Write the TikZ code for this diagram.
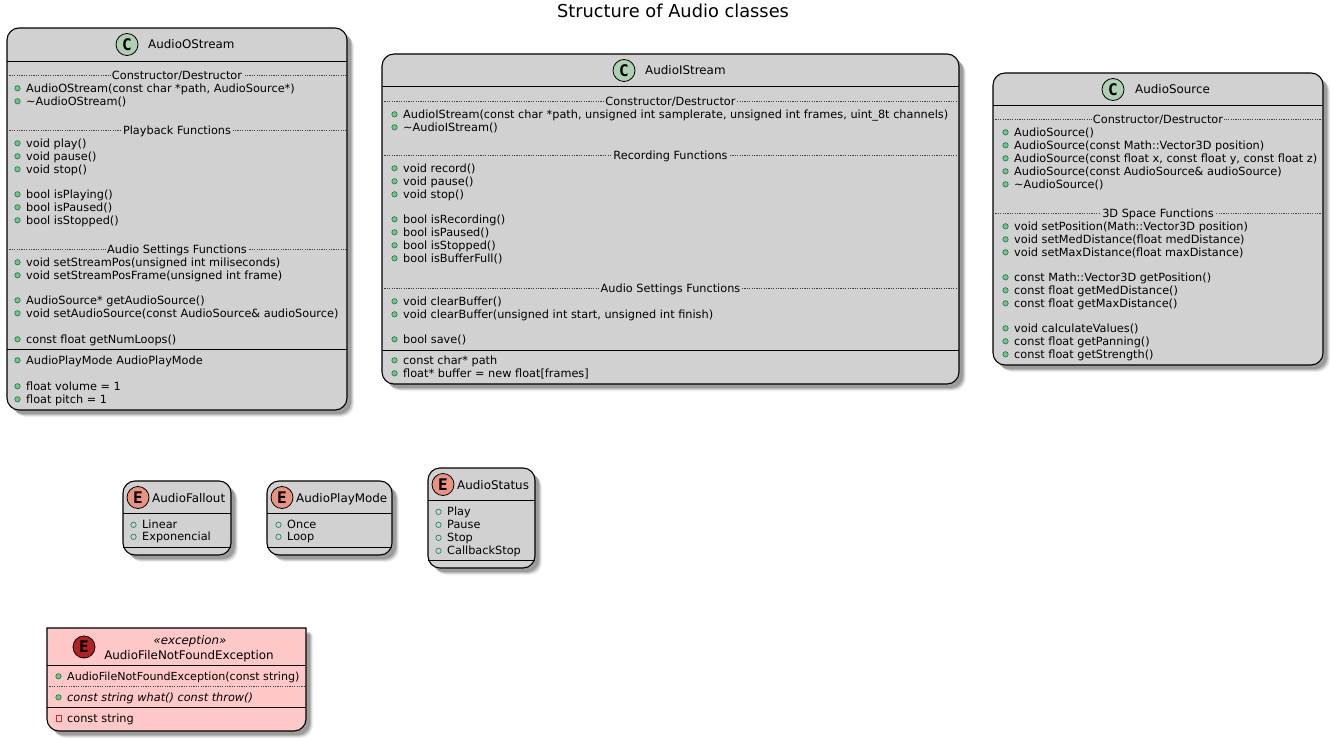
\documentclass[tikz,border=0pt]{standalone}
\usepackage{fontspec}
\setmainfont{DejaVu Sans}
\newfontfamily\spotfont{DejaVu Sans Mono}
\usetikzlibrary{shadows}

\definecolor{boxgray}{HTML}{D1D1D1}
\definecolor{classgreen}{HTML}{ADD1B2}
\definecolor{enumred}{HTML}{EB937F}
\definecolor{errpink}{HTML}{FFC8C8}
\definecolor{errdark}{HTML}{B22222}
\definecolor{pubfill}{HTML}{84BE84}
\definecolor{publine}{HTML}{038048}
\definecolor{privline}{HTML}{C82930}

\tikzset{
  umlbox/.style={draw=black,line width=1.1pt,fill=#1,
    general shadow={shadow xshift=7pt,shadow yshift=-7pt,fill=black,opacity=0.06},
    general shadow={shadow xshift=6pt,shadow yshift=-6pt,fill=black,opacity=0.10},
    general shadow={shadow xshift=5pt,shadow yshift=-5pt,fill=black,opacity=0.14},
    general shadow={shadow xshift=4pt,shadow yshift=-4pt,fill=black,opacity=0.16}},
  divline/.style={draw=black,line width=0.9pt},
  sepline/.style={draw=black!75,line width=0.6pt,dash pattern=on 1.2pt off 1.2pt},
  textline/.style={anchor=base west,inner sep=0pt,font=\fontsize{11.3}{13}\selectfont},
  sectext/.style={inner xsep=1pt,inner ysep=0pt,fill=#1,text=black,text height=9.5pt,text depth=0.5pt,font=\fontsize{11.3}{13}\selectfont},
  titletext/.style={inner sep=0pt,font=\fontsize{11.9}{14}\selectfont},
  spot/.style={circle,draw=black,line width=0.8pt,minimum size=22pt,inner sep=0pt,fill=#1,font=\fontsize{16}{16}\spotfont\bfseries\selectfont}
}
\newcommand{\pubm}[4]{\fill[pubfill,draw=publine,line width=0.6pt] (#2-8.5,#3+0.3) circle (2.7pt);
  \node[textline] (#1) at (#2,#3+4.5) {#4};}
\newcommand{\enumm}[4]{\draw[publine,line width=0.6pt] (#2-8.5,#3+0.8) circle (2.7pt);
  \node[textline] (#1) at (#2,#3+4.5) {#4};}
\newcommand{\privm}[4]{\draw[privline,line width=0.7pt] (#2-11,#3-2.2) rectangle (#2-5.6,#3+3.2);
  \node[textline] (#1) at (#2,#3+4.5) {#4};}
\newcommand{\secl}[6]{\draw[sepline] (#2,#4) -- (#3,#4) node[midway,sectext=#5] (#1) {#6};}

\begin{document}
\begin{tikzpicture}[x=1pt,y=-1pt]
\useasboundingbox (0,0) rectangle (1333,738);

\node[inner sep=0pt,font=\fontsize{17.8}{20}\selectfont] (title) at (673,10.5) {Structure of Audio classes};

% AudioOStream
\draw[umlbox=boxgray,rounded corners=12pt] (7,28) rectangle (347,410);
\draw[divline] (7,61) -- (347,61);
\draw[divline] (7,349) -- (347,349);
\node[spot=classgreen] (ospot) at (127,44.5) {C};
\node[titletext,anchor=base west] (oname) at (148,49) {AudioOStream};
\secl{osec1}{7}{347}{75}{boxgray}{Constructor/Destructor}
\pubm{o1}{26}{88}{AudioOStream(const char *path, AudioSource*)}
\pubm{o2}{26}{101}{\textasciitilde AudioOStream()}
\secl{osec2}{7}{347}{130}{boxgray}{Playback Functions}
\pubm{o3}{26}{143}{void play()}
\pubm{o4}{26}{156}{void pause()}
\pubm{o5}{26}{169}{void stop()}
\pubm{o6}{26}{194}{bool isPlaying()}
\pubm{o7}{26}{207}{bool isPaused()}
\pubm{o8}{26}{220}{bool isStopped()}
\secl{osec3}{7}{347}{249}{boxgray}{Audio Settings Functions}
\pubm{o9}{26}{262}{void setStreamPos(unsigned int miliseconds)}
\pubm{o10}{26}{275}{void setStreamPosFrame(unsigned int frame)}
\pubm{o11}{26}{300}{AudioSource* getAudioSource()}
\pubm{o12}{26}{313}{void setAudioSource(const AudioSource\& audioSource)}
\pubm{o13}{26}{339}{const float getNumLoops()}
\pubm{o14}{26}{360}{AudioPlayMode AudioPlayMode}
\pubm{o15}{26}{386}{float volume = 1}
\pubm{o16}{26}{399}{float pitch = 1}

% AudioIStream
\draw[umlbox=boxgray,rounded corners=12pt] (382,54) rectangle (959,384);
\draw[divline] (382,86) -- (959,86);
\draw[divline] (382,350) -- (959,350);
\node[spot=classgreen] (ispot) at (624,70.5) {C};
\node[titletext,anchor=base west] (iname) at (645,75) {AudioIStream};
\secl{isec1}{382}{959}{101}{boxgray}{Constructor/Destructor}
\pubm{i1}{403}{114}{AudioIStream(const char *path, unsigned int samplerate, unsigned int frames, uint\_8t channels)}
\pubm{i2}{403}{127}{\textasciitilde AudioIStream()}
\secl{isec2}{382}{959}{155}{boxgray}{Recording Functions}
\pubm{i3}{403}{168}{void record()}
\pubm{i4}{403}{181}{void pause()}
\pubm{i5}{403}{194}{void stop()}
\pubm{i6}{403}{219}{bool isRecording()}
\pubm{i7}{403}{232}{bool isPaused()}
\pubm{i8}{403}{245}{bool isStopped()}
\pubm{i9}{403}{258}{bool isBufferFull()}
\secl{isec3}{382}{959}{288}{boxgray}{Audio Settings Functions}
\pubm{i10}{403}{301}{void clearBuffer()}
\pubm{i11}{403}{314}{void clearBuffer(unsigned int start, unsigned int finish)}
\pubm{i12}{403}{339}{bool save()}
\pubm{i13}{403}{360}{const char* path}
\pubm{i14}{403}{373}{float* buffer = new float[frames]}

% AudioSource
\draw[umlbox=boxgray,rounded corners=12pt] (993,73) rectangle (1323,365);
\draw[divline] (993,105) -- (1323,105);
\node[spot=classgreen] (sspot) at (1113,89.5) {C};
\node[titletext,anchor=base west] (sname) at (1135,94) {AudioSource};
\secl{ssec1}{993}{1323}{119}{boxgray}{Constructor/Destructor}
\pubm{s1}{1014}{132}{AudioSource()}
\pubm{s2}{1014}{145}{AudioSource(const Math::Vector3D position)}
\pubm{s3}{1014}{158}{AudioSource(const float x, const float y, const float z)}
\pubm{s4}{1014}{171}{AudioSource(const AudioSource\& audioSource)}
\pubm{s5}{1014}{184}{\textasciitilde AudioSource()}
\secl{ssec2}{993}{1323}{213}{boxgray}{3D Space Functions}
\pubm{s6}{1014}{226}{void setPosition(Math::Vector3D position)}
\pubm{s7}{1014}{239}{void setMedDistance(float medDistance)}
\pubm{s8}{1014}{252}{void setMaxDistance(float maxDistance)}
\pubm{s9}{1014}{277}{const Math::Vector3D getPosition()}
\pubm{s10}{1014}{290}{const float getMedDistance()}
\pubm{s11}{1014}{303}{const float getMaxDistance()}
\pubm{s12}{1014}{328}{void calculateValues()}
\pubm{s13}{1014}{341}{const float getPanning()}
\pubm{s14}{1014}{354}{const float getStrength()}

% AudioFallout
\draw[umlbox=boxgray,rounded corners=12pt] (123,481) rectangle (231,555);
\draw[divline] (123,513) -- (231,513);
\draw[divline] (123,547) -- (231,547);
\node[spot=enumred] (fspot) at (138,497.5) {E};
\node[titletext,anchor=base west] (fname) at (152,502) {AudioFallout};
\enumm{f1}{142}{524}{Linear}
\enumm{f2}{142}{536}{Exponencial}

% AudioPlayMode
\draw[umlbox=boxgray,rounded corners=12pt] (267,481) rectangle (392,555);
\draw[divline] (267,513) -- (392,513);
\draw[divline] (267,547) -- (392,547);
\node[spot=enumred] (pspot) at (282,497.5) {E};
\node[titletext,anchor=base west] (pname) at (296,502) {AudioPlayMode};
\enumm{p1}{287}{524}{Once}
\enumm{p2}{287}{536}{Loop}

% AudioStatus
\draw[umlbox=boxgray,rounded corners=12pt] (428,468) rectangle (535,568);
\draw[divline] (428,500) -- (535,500);
\draw[divline] (428,560) -- (535,560);
\node[spot=enumred] (tspot) at (443,484.5) {E};
\node[titletext,anchor=base west] (tname) at (457,489) {AudioStatus};
\enumm{t1}{447}{511}{Play}
\enumm{t2}{447}{524}{Pause}
\enumm{t3}{447}{537}{Stop}
\enumm{t4}{447}{550}{CallbackStop}

% AudioFileNotFoundException
\draw[umlbox=errpink,rounded corners=12pt] (47,680) -- (47,731) -- (306,731) -- (306,680) [sharp corners] -- (306,628) -- (47,628) -- cycle;
\draw[divline] (47,665) -- (306,665);
\draw[divline] (47,707) -- (306,707);
\node[spot=errdark] (xspot) at (84,647) {E};
\node[titletext,anchor=base,font=\fontsize{11.8}{12}\itshape\selectfont] (xster) at (190,644) {«exception»};
\node[titletext,anchor=base] (xname) at (189,659) {AudioFileNotFoundException};
\pubm{x1}{67}{676}{\fontsize{11.1}{13}\selectfont AudioFileNotFoundException(const string)}
\draw[sepline] (47,686) -- (306,686);
\pubm{x2}{67}{697}{\itshape const string what() const throw()}
\privm{x3}{67}{718}{const string}
\end{tikzpicture}
\end{document}
